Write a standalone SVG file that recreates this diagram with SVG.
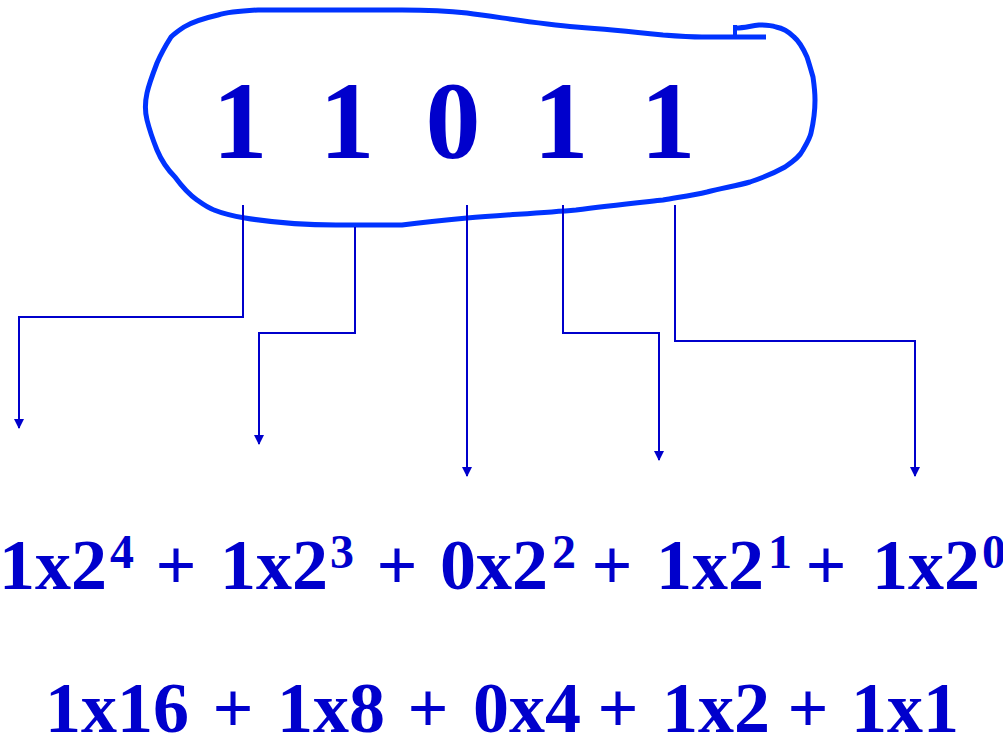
<svg xmlns="http://www.w3.org/2000/svg" width="1003" height="738" viewBox="0 0 1003 738">
<style>
.t{font-family:"Liberation Serif","Times New Roman",serif;font-weight:bold;fill:#0000CC;text-anchor:middle}
.big{font-size:110px}
.eq{font-size:72px}
.sup{font-size:48px}
.loop{fill:none;stroke:#0033FF;stroke-width:5;stroke-linecap:butt;stroke-linejoin:round}
.con{fill:none;stroke:#0000CC;stroke-width:2}
</style>
<defs>
<marker id="ah" viewBox="0 0 10 10" refX="9" refY="5" markerWidth="10" markerHeight="10" markerUnits="userSpaceOnUse" orient="auto">
<path d="M0,0 L10,5 L0,10 Z" fill="#0000CC"/>
</marker>
</defs>
<rect width="1003" height="738" fill="#ffffff"/>
<g id="number">
<path class="loop" d="M766,37 L702,37 C690,37 676,36 663,35 C635,32 605,29 576,27 C540,24 505,18 467,13 C440,10 420,10 402,10 L258,10 C240,11 228,12 218,15 C205,18 192,22 184,27 C178,31 174,34 171,37 C164,48 160,56 157,63 C152,76 149,84 147,93 C145,102 145,112 147,120 C150,132 153,140 157,150 C162,162 168,170 175,177 C183,188 190,195 197,200 C204,205 208,208 214,210 C224,214 233,216 245,218 C270,222 300,225 336,225 L402,225 C425,222 445,220 467,218 C505,215 540,213 576,210 C605,206 635,203 663,200 C680,197 694,195 707,192 C722,188 736,186 750,182 C765,177 776,172 785,167 C795,160 800,156 803,150 C807,143 810,138 811,133 C814,120 815,110 815,100 C815,92 814,84 813,77 C811,70 809,63 807,57 C803,48 800,42 794,37 C788,31 782,28 776,27 C770,25 765,25 759,25 C750,26 744,28 736,28"/>
<rect x="733" y="25" width="4" height="12" fill="#0033FF"/>
<text class="t big" x="240" y="158">1</text>
<text class="t big" x="347" y="158">1</text>
<text class="t big" x="453" y="158">0</text>
<text class="t big" x="561" y="158">1</text>
<text class="t big" x="668" y="158">1</text>
</g>
<g id="connectors">
<path class="con" d="M243,205 V317 H19 V428" marker-end="url(#ah)"/>
<path class="con" d="M355,227 V333 H259 V444" marker-end="url(#ah)"/>
<path class="con" d="M467,205 V476" marker-end="url(#ah)"/>
<path class="con" d="M563,205 V333 H659 V460" marker-end="url(#ah)"/>
<path class="con" d="M675,205 V341 H915 V476" marker-end="url(#ah)"/>
</g>
<g id="powers">
<text class="t eq" x="53" y="589">1x2</text>
<text class="t sup" x="122" y="568">4</text>
<text class="t eq" x="176" y="589">+</text>
<text class="t eq" x="274" y="589">1x2</text>
<text class="t sup" x="342" y="568">3</text>
<text class="t eq" x="397" y="589">+</text>
<text class="t eq" x="494" y="589">0x2</text>
<text class="t sup" x="564" y="568">2</text>
<text class="t eq" x="612" y="589">+</text>
<text class="t eq" x="710" y="589">1x2</text>
<text class="t sup" x="780" y="568">1</text>
<text class="t eq" x="826" y="589">+</text>
<text class="t eq" x="926" y="589">1x2</text>
<text class="t sup" x="994" y="568">0</text>
</g>
<g id="values">
<text class="t eq" x="117" y="732">1x16</text>
<text class="t eq" x="233" y="732">+</text>
<text class="t eq" x="331" y="732">1x8</text>
<text class="t eq" x="428" y="732">+</text>
<text class="t eq" x="527" y="732">0x4</text>
<text class="t eq" x="618" y="732">+</text>
<text class="t eq" x="716" y="732">1x2</text>
<text class="t eq" x="808" y="732">+</text>
<text class="t eq" x="905" y="732">1x1</text>
</g>
</svg>
